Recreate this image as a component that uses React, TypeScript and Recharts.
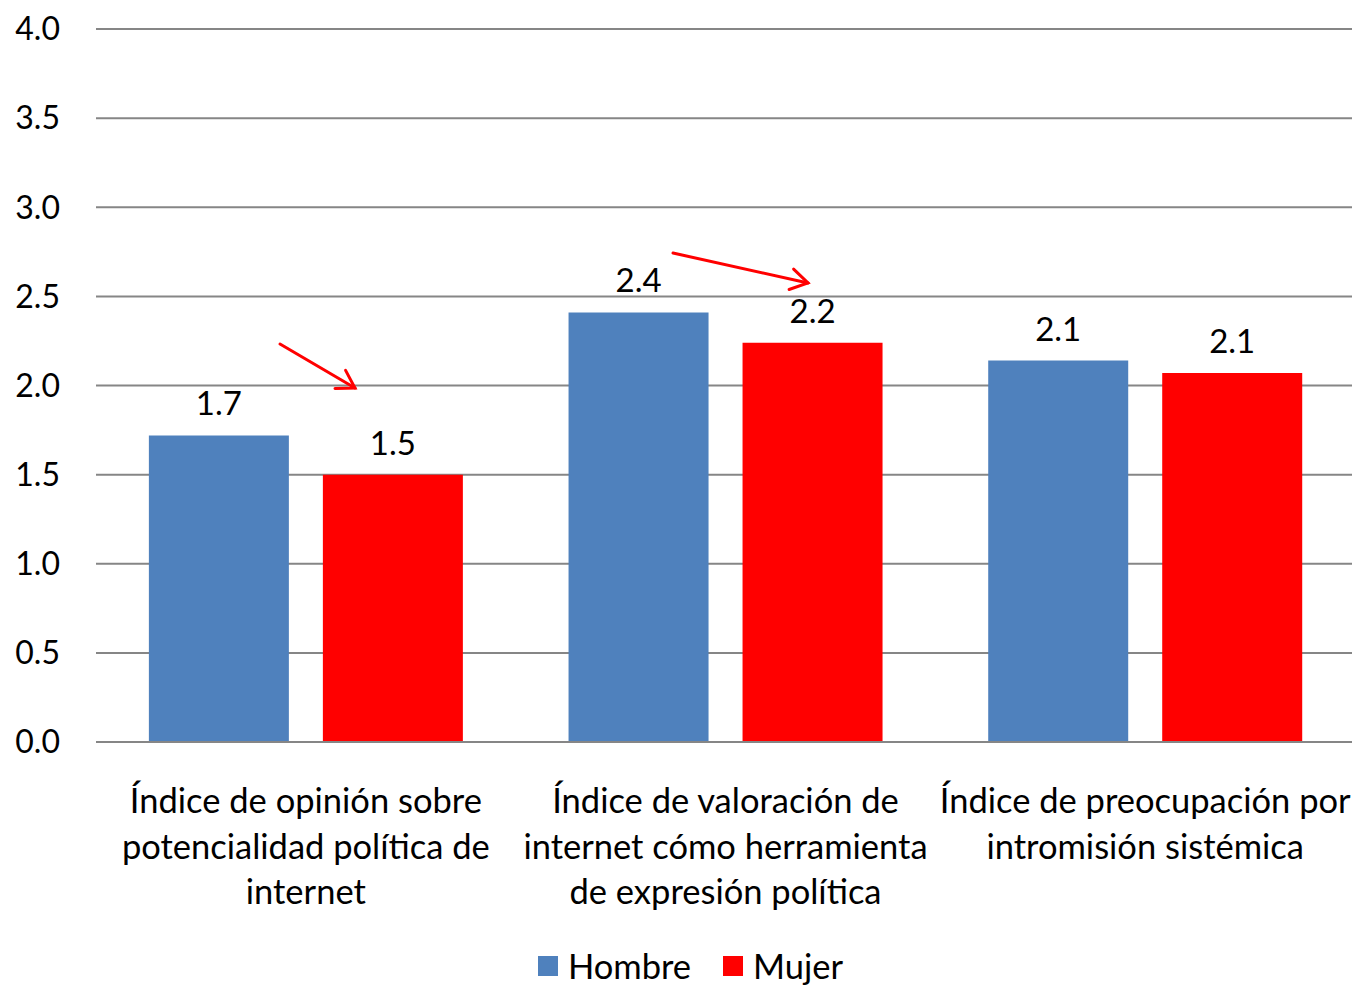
import React from "react";
import { BarChart, Bar, XAxis, YAxis, CartesianGrid, LabelList, Legend } from "recharts";

const categories = [
  "Índice de opinión sobre potencialidad política de internet",
  "Índice de valoración de internet cómo herramienta de expresión política",
  "Índice de preocupación por intromisión sistémica",
];
const categoryLines: string[][] = [
  ["Índice de opinión sobre", "potencialidad política de", "internet"],
  ["Índice de valoración de", "internet cómo herramienta", "de expresión política"],
  ["Índice de preocupación por", "intromisión sistémica"],
];
const hombre = [1.72, 2.41, 2.14];
const mujer = [1.5, 2.24, 2.07];
const yTicks = [0, 0.5, 1, 1.5, 2, 2.5, 3, 3.5, 4];
const seriesNames = ["Hombre", "Mujer"];
const seriesColors = ["#4F81BD", "#FF0000"];
// annotation arrows (pixel overlay)
const arrows = [
  { x1: 280, y1: 344, x2: 355, y2: 388 },
  { x1: 673, y1: 253, x2: 808, y2: 283 },
];

const data = categories.map((c, i) => ({ name: c, idx: i, Hombre: hombre[i], Mujer: mujer[i] }));

const FONT = "Lato, 'Open Sans', sans-serif";
const W = 1352;
const H = 989;

const CatTick = (props: any) => {
  const { x, y, payload } = props;
  const lines = categoryLines[payload.index] || [payload.value];
  return (
    <g transform={`translate(${x},${y})`}>
      <text textAnchor="middle" fontFamily={FONT} fontSize={34.5} fill="#000">
        {lines.map((l, i) => (
          <tspan key={i} x={0} y={63 + i * 45.5}>
            {l}
          </tspan>
        ))}
      </text>
    </g>
  );
};

const LegendContent = () => (
  <div
    style={{
      display: "flex",
      justifyContent: "center",
      alignItems: "center",
      fontFamily: FONT,
      fontSize: 34.5,
      color: "#000",
      paddingTop: 10,
      paddingLeft: 26,
    }}
  >
    {seriesNames.map((n, i) => (
      <div key={n} style={{ display: "flex", alignItems: "center", marginRight: i === 0 ? 32 : 0 }}>
        <div style={{ width: 20, height: 20, background: seriesColors[i], marginRight: 10 }} />
        <span style={{ lineHeight: "34px" }}>{n}</span>
      </div>
    ))}
  </div>
);

function Arrow({ x1, y1, x2, y2 }: { x1: number; y1: number; x2: number; y2: number }) {
  const ang = Math.atan2(y2 - y1, x2 - x1);
  const len = 20;
  const spread = 0.55;
  const a1 = ang + Math.PI - spread;
  const a2 = ang + Math.PI + spread;
  return (
    <g stroke="#FF0000" strokeWidth={3} fill="none" strokeLinecap="round">
      <line x1={x1} y1={y1} x2={x2} y2={y2} />
      <polyline
        points={`${x2 + len * Math.cos(a1)},${y2 + len * Math.sin(a1)} ${x2},${y2} ${x2 + len * Math.cos(a2)},${y2 + len * Math.sin(a2)}`}
      />
    </g>
  );
}

export default function App() {
  return (
    <div style={{ position: "absolute", left: 0, top: 0, width: W, height: H, background: "#fff", overflow: "hidden" }}>
      <BarChart
        width={W + 3}
        height={H}
        data={data}
        margin={{ top: 29, right: 0, left: 0, bottom: 0 }}
        barCategoryGap="12.6%"
        barGap={34}
      >
        <CartesianGrid vertical={false} stroke="#868686" strokeWidth={2} />
        <XAxis
          dataKey="name"
          tickLine={false}
          axisLine={{ stroke: "#868686", strokeWidth: 2 }}
          height={197}
          interval={0}
          tick={<CatTick />}
        />
        <YAxis
          domain={[0, 4]}
          ticks={yTicks}
          width={96}
          axisLine={false}
          tickLine={false}
          tickMargin={30}
          tickFormatter={(v: number) => v.toFixed(1)}
          tick={{ fontFamily: FONT, fontSize: 32, fill: "#000" }}
        />
        <Legend verticalAlign="bottom" height={50} content={<LegendContent />} />
        <Bar dataKey="Hombre" fill={seriesColors[0]} isAnimationActive={false}>
          <LabelList
            dataKey="Hombre"
            position="top"
            offset={20}
            formatter={(v: any) => Number(v).toFixed(1)}
            style={{ fontFamily: FONT, fontSize: 33, fill: "#000" }}
          />
        </Bar>
        <Bar dataKey="Mujer" fill={seriesColors[1]} isAnimationActive={false}>
          <LabelList
            dataKey="Mujer"
            position="top"
            offset={20}
            formatter={(v: any) => Number(v).toFixed(1)}
            style={{ fontFamily: FONT, fontSize: 33, fill: "#000" }}
          />
        </Bar>
      </BarChart>
      <svg width={W} height={H} style={{ position: "absolute", left: 0, top: 0, pointerEvents: "none" }}>
        {arrows.map((a, i) => (
          <Arrow key={i} {...a} />
        ))}
      </svg>
    </div>
  );
}
